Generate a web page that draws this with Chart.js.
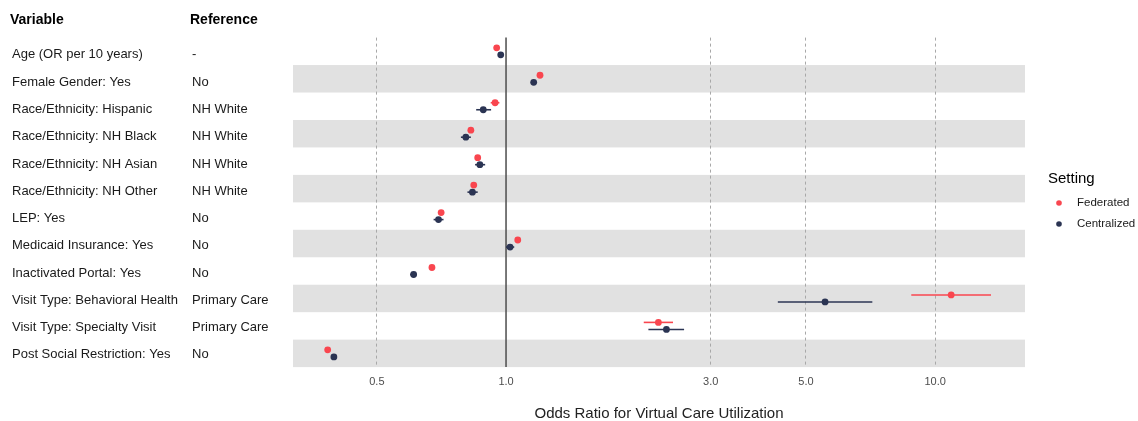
<!DOCTYPE html>
<html>
<head>
<meta charset="utf-8">
<script src="https://cdn.jsdelivr.net/npm/chart.js@4"></script>
<style>
html,body{margin:0;padding:0;background:#fff;}
#wrap{width:1138px;height:421px;position:relative;}
</style>
</head>
<body>
<div id="wrap"><canvas id="forest"></canvas></div>
<script>
// rows, top to bottom
const variables = ["Age (OR per 10 years)","Female Gender: Yes","Race/Ethnicity: Hispanic","Race/Ethnicity: NH Black","Race/Ethnicity: NH Asian","Race/Ethnicity: NH Other","LEP: Yes","Medicaid Insurance: Yes","Inactivated Portal: Yes","Visit Type: Behavioral Health","Visit Type: Specialty Visit","Post Social Restriction: Yes"];
const references = ["-","No","NH White","NH White","NH White","NH White","No","No","No","Primary Care","Primary Care","No"];

const fedOR = [0.951,1.20,0.943,0.828,0.859,0.841,0.706,1.065,0.672,10.9,2.265,0.384];
const fedLo = [0.945,1.19,0.921,0.816,0.849,0.831,0.698,1.054,0.665,8.80,2.094,0.380];
const fedHi = [0.957,1.21,0.965,0.840,0.869,0.851,0.714,1.076,0.679,13.5,2.45,0.388];

const cenOR = [0.972,1.16,0.885,0.806,0.869,0.835,0.696,1.022,0.609,5.54,2.365,0.397];
const cenLo = [0.965,1.15,0.852,0.785,0.847,0.813,0.678,1.000,0.598,4.30,2.147,0.393];
const cenHi = [0.979,1.17,0.923,0.828,0.894,0.859,0.715,1.045,0.620,7.14,2.60,0.401];

const xTicks = [0.5,1.0,3.0,5.0,10.0];

const RED = "#f9464f";
const NAVY = "#2b3453";
const dodge = 0.128;

const fedPts = fedOR.map((v,i)=>({x:v,y:i+1-dodge}));
const cenPts = cenOR.map((v,i)=>({x:v,y:i+1+dodge}));

const lows = [fedLo,cenLo];
const highs = [fedHi,cenHi];

const FONT = "'Liberation Sans', Arial, sans-serif";

const bands = {
  id:"bands",
  beforeDraw(chart){
    const {ctx,chartArea:a,scales:{y}} = chart;
    ctx.save();
    ctx.fillStyle = "#e1e1e1";
    for(let i=2;i<=variables.length;i+=2){
      const t = y.getPixelForValue(i-0.5), b = y.getPixelForValue(i+0.5);
      ctx.fillRect(a.left,t,a.right-a.left,b-t);
    }
    ctx.restore();
  },
  beforeDatasetsDraw(chart){
    const {ctx,chartArea:a,scales:{x}} = chart;
    // reference line at OR = 1
    ctx.save();
    ctx.strokeStyle = "#4d4d4d";
    ctx.lineWidth = 1.5;
    const px = x.getPixelForValue(1);
    ctx.beginPath();ctx.moveTo(px,a.top);ctx.lineTo(px,a.bottom);ctx.stroke();
    // confidence intervals
    chart.data.datasets.forEach((ds,d)=>{
      const meta = chart.getDatasetMeta(d);
      ctx.strokeStyle = ds.borderColor;
      ctx.lineWidth = 1.6;
      meta.data.forEach((pt,j)=>{
        ctx.beginPath();
        ctx.moveTo(x.getPixelForValue(lows[d][j]),pt.y);
        ctx.lineTo(x.getPixelForValue(highs[d][j]),pt.y);
        ctx.stroke();
      });
    });
    ctx.restore();
  },
  afterDraw(chart){
    const {ctx,scales:{y}} = chart;
    ctx.save();
    ctx.textBaseline = "middle";
    ctx.fillStyle = "#000";
    ctx.font = "bold 14px " + FONT;
    ctx.fillText("Variable",10,20);
    ctx.fillText("Reference",190,20);
    ctx.font = "13px " + FONT;
    ctx.fillStyle = "#1a1a1a";
    variables.forEach((v,i)=>{
      const py = y.getPixelForValue(i+1) + 1.5 + (11-i)/11*2;
      ctx.fillText(v,12,py);
      ctx.fillText(references[i],192,py);
    });
    // legend
    ctx.fillStyle = "#000";
    ctx.font = "15px " + FONT;
    ctx.fillText("Setting",1048,179);
    ctx.font = "11.5px " + FONT;
    chart.data.datasets.forEach((ds,d)=>{
      const ly = 203 + d*21;
      ctx.fillStyle = ds.backgroundColor;
      ctx.beginPath();ctx.arc(1059,ly,2.8,0,Math.PI*2);ctx.fill();
      ctx.fillStyle = "#1a1a1a";
      ctx.fillText(ds.label,1077,ly);
    });
    ctx.restore();
  }
};

new Chart(document.getElementById("forest"),{
  type:"scatter",
  data:{
    datasets:[
      {label:"Federated",data:fedPts,backgroundColor:RED,borderColor:RED,pointRadius:3.4,pointHoverRadius:3.4,borderWidth:0},
      {label:"Centralized",data:cenPts,backgroundColor:NAVY,borderColor:NAVY,pointRadius:3.4,pointHoverRadius:3.4,borderWidth:0}
    ]
  },
  options:{
    responsive:true,
    maintainAspectRatio:false,
    animation:false,
    layout:{padding:{left:293,right:113,top:37.6,bottom:0}},
    plugins:{legend:{display:false},tooltip:{enabled:false}},
    scales:{
      x:{
        type:"logarithmic",
        bounds:"data",
        min:0.3188,
        max:16.2,
        afterBuildTicks(scale){scale.ticks = xTicks.map(v=>({value:v}));},
        ticks:{
          padding:7.9,
          color:"#4d4d4d",
          font:{size:11,family:FONT},
          callback:(v)=>Number(v).toFixed(1),
          autoSkip:false,
          maxRotation:0
        },
        grid:{
          drawTicks:false,
          color:(c)=>c.tick && c.tick.value===1 ? "rgba(0,0,0,0)" : "#a8a8a8",
          lineWidth:1
        },
        border:{display:false,dash:[3,3]},
        title:{
          display:true,
          text:"Odds Ratio for Virtual Care Utilization",
          color:"#222",
          font:{size:15,family:FONT,lineHeight:1},
          padding:{top:9.9,bottom:0}
        }
      },
      y:{
        type:"linear",
        reverse:true,
        min:0.5,
        max:12.5,
        display:false
      }
    }
  },
  plugins:[bands]
});
</script>
</body>
</html>
